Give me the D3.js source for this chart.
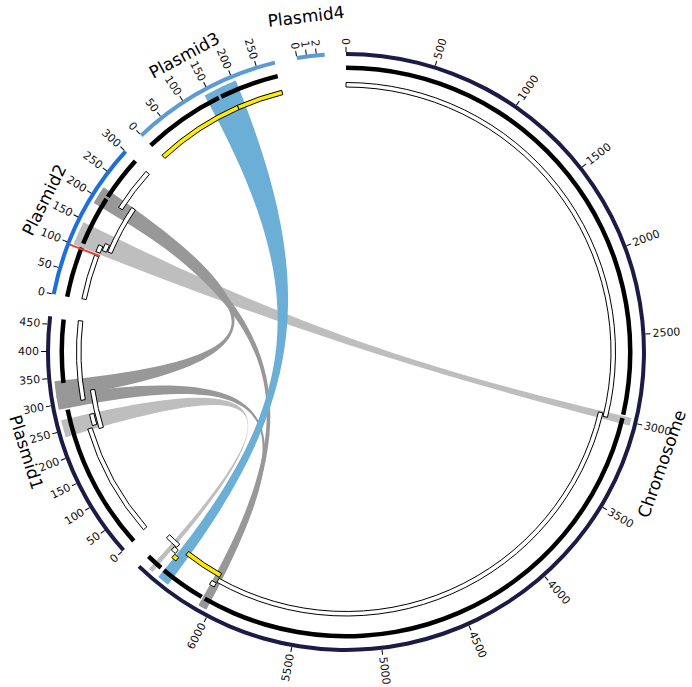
<!DOCTYPE html>
<html>
<head>
<meta charset="utf-8">
<script src="https://cdn.jsdelivr.net/npm/d3@7"></script>
<style>
  body { margin: 0; background: #fff; }
  svg { display: block; font-family: "DejaVu Sans", sans-serif; }
</style>
</head>
<body>
<svg width="692" height="687"></svg>
<script>
// replicons and their lengths (kb)
const sectorNames = ["Chromosome", "Plasmid1", "Plasmid2", "Plasmid3", "Plasmid4"];
const sectorLengths = [6470, 465, 300, 285, 2.85];
const tickSteps = [500, 50, 50, 50, 1];

// contig ring: [replicon, start, end]
const contigs = [
    ["Chromosome", 0, 2968], ["Chromosome", 2988, 6060], ["Chromosome", 6080, 6350], ["Chromosome", 6372, 6470],
    ["Plasmid1", 0, 287], ["Plasmid1", 339, 462],
    ["Plasmid2", 0, 100], ["Plasmid2", 108, 206], ["Plasmid2", 211, 299],
    ["Plasmid3", 0, 162], ["Plasmid3", 167, 284]
];

// annotated regions: [replicon, start, end, row, kind]
const regions = [
    ["Chromosome", 0, 3005, 0, "other"],
    ["Chromosome", 2985, 6045, 1, "other"],
    ["Chromosome", 6045, 6078, 0, "other"],
    ["Chromosome", 6046, 6305, 2, "island"],
    ["Chromosome", 6330, 6362, 0, "island"],
    ["Chromosome", 6362, 6395, 1, "other"],
    ["Chromosome", 6380, 6470, 2, "other"],
    ["Plasmid1", 4, 240, 0, "other"],
    ["Plasmid1", 244, 268, 1, "other"],
    ["Plasmid1", 234, 318, 2, "other"],
    ["Plasmid1", 300, 463, 0, "other"],
    ["Plasmid2", 2, 95, 0, "other"],
    ["Plasmid2", 103, 118, 0, "other"],
    ["Plasmid2", 110, 126, 1, "other"],
    ["Plasmid2", 112, 220, 2, "other"],
    ["Plasmid2", 205, 298, 0, "other"],
    ["Plasmid3", 3, 189, 0, "island"],
    ["Plasmid3", 189, 285, 0, "island"]
];

// single-position markers: [replicon, position]
const markers = [["Plasmid2", 97]];

// shared regions: [replicon, start, end, replicon, start, end, group]
const links = [
    ["Chromosome", 2975, 3020, "Plasmid2", 100, 146, "low"],
    ["Plasmid1", 237, 270, "Chromosome", 6392, 6420, "low"],
    ["Plasmid2", 187, 222, "Plasmid1", 312, 344, "mid"],
    ["Plasmid2", 190, 220, "Chromosome", 6022, 6072, "mid"],
    ["Plasmid1", 290, 318, "Chromosome", 6022, 6072, "mid"],
    ["Plasmid3", 140, 205, "Chromosome", 6280, 6350, "high"]
];

// ---- layout ----
var svg = d3.select("svg"),
    width = +svg.attr("width"),
    height = +svg.attr("height");

const cx = 346, cy = 352;
const gapDeg = 4.3;
const spanDeg = [224, 48.6, 31.1, 29.6, 5.4];
const nameShiftDeg = [-2.5, 0, 0, 0, 0];
const ideoColors = ["#1b1b45", "#1b1b45", "#1f6fdb", "#5b9bd5", "#5b9bd5"];
const linkColors = { low: "#bebebe", mid: "#989898", high: "#6baed6" };
const kindColors = { other: "#ffffff", island: "#ffeb00" };

const rIdeo = [296, 300], rRing = [282, 286.5], rLink = 293;
const rowBase = 265, rowStep = 5.5, rowHeight = 4.5;
const bend = 0.23;   // how far the link control points sit from the centre

// angle scale for each replicon
const rad = Math.PI / 180;
var scales = {};
var startDeg = 0;
sectorNames.forEach((name, i) => {
    scales[name] = d3.scaleLinear()
        .domain([0, sectorLengths[i]])
        .range([startDeg * rad, (startDeg + spanDeg[i]) * rad]);
    startDeg += spanDeg[i] + gapDeg;
});

var g = svg.append("g").attr("transform", "translate(" + cx + "," + cy + ")");

// ribbon with cubic curves through the middle
function linkPath(a0, a1, b0, b1) {
    const pt = (a, k) => [k * rLink * Math.sin(a), -k * rLink * Math.cos(a)];
    var p = d3.path();
    var s0 = pt(a0, 1), t0 = pt(b0, 1);
    p.moveTo(s0[0], s0[1]);
    p.arc(0, 0, rLink, a0 - Math.PI / 2, a1 - Math.PI / 2);
    var c1 = pt(a1, bend), c2 = pt(b0, bend);
    p.bezierCurveTo(c1[0], c1[1], c2[0], c2[1], t0[0], t0[1]);
    p.arc(0, 0, rLink, b0 - Math.PI / 2, b1 - Math.PI / 2);
    var c3 = pt(b1, bend), c4 = pt(a0, bend);
    p.bezierCurveTo(c3[0], c3[1], c4[0], c4[1], s0[0], s0[1]);
    p.closePath();
    return p.toString();
}

// links go underneath the tracks
g.append("g")
    .selectAll("path")
    .data(links)
    .enter().append("path")
    .attr("d", d => linkPath(scales[d[0]](d[1]), scales[d[0]](d[2]), scales[d[3]](d[4]), scales[d[3]](d[5])))
    .attr("fill", d => linkColors[d[6]]);

// outer ideogram arcs
var arc = d3.arc();
g.append("g")
    .selectAll("path")
    .data(sectorNames)
    .enter().append("path")
    .attr("d", (d, i) => arc({
        innerRadius: rIdeo[0], outerRadius: rIdeo[1],
        startAngle: scales[d](0), endAngle: scales[d](sectorLengths[i])
    }))
    .attr("fill", (d, i) => ideoColors[i]);

// contig ring
g.append("g")
    .selectAll("path")
    .data(contigs)
    .enter().append("path")
    .attr("d", d => arc({
        innerRadius: rRing[0], outerRadius: rRing[1],
        startAngle: scales[d[0]](d[1]), endAngle: scales[d[0]](d[2])
    }))
    .attr("fill", "#000");

// annotated regions
g.append("g")
    .selectAll("path")
    .data(regions)
    .enter().append("path")
    .attr("d", d => arc({
        innerRadius: rowBase - d[3] * rowStep,
        outerRadius: rowBase - d[3] * rowStep + rowHeight,
        startAngle: scales[d[0]](d[1]), endAngle: scales[d[0]](d[2])
    }))
    .attr("fill", d => kindColors[d[4]])
    .attr("stroke", "#000")
    .attr("stroke-width", 1);

// markers
g.append("g")
    .selectAll("line")
    .data(markers)
    .enter().append("line")
    .attr("x1", d => 264 * Math.sin(scales[d[0]](d[1])))
    .attr("y1", d => -264 * Math.cos(scales[d[0]](d[1])))
    .attr("x2", d => 297 * Math.sin(scales[d[0]](d[1])))
    .attr("y2", d => -297 * Math.cos(scales[d[0]](d[1])))
    .attr("stroke", "#e8402a")
    .attr("stroke-width", 2);

// ticks
var ticks = [];
sectorNames.forEach((name, i) => {
    d3.range(0, sectorLengths[i] + 1e-6, tickSteps[i]).forEach(v => {
        ticks.push({ name: name, value: v, angle: scales[name](v) / rad });
    });
});

var tick = g.append("g")
    .selectAll("g")
    .data(ticks)
    .enter().append("g")
    .attr("transform", d => "rotate(" + (d.angle - 90) + ")");

tick.append("line")
    .attr("x1", 300).attr("x2", 305)
    .attr("stroke", "#000").attr("stroke-width", 1);

tick.append("text")
    .attr("transform", d => d.angle > 180 ? "translate(307,0) rotate(180)" : "translate(307,0)")
    .attr("text-anchor", d => d.angle > 180 ? "end" : "start")
    .attr("dominant-baseline", "central")
    .attr("font-size", 11)
    .attr("fill", "#111")
    .text(d => d3.format("d")(d.value));

// replicon names
g.append("g")
    .selectAll("text")
    .data(sectorNames)
    .enter().append("text")
    .attr("transform", (d, i) => {
        var mid = (scales[d](0) + scales[d](sectorLengths[i])) / 2 / rad + nameShiftDeg[i];
        var r = (mid > 90 && mid < 270) ? 335 : 338;
        var x = r * Math.sin(mid * rad), y = -r * Math.cos(mid * rad);
        var rot = (mid > 90 && mid < 270) ? mid - 180 : mid;
        return "translate(" + x + "," + y + ") rotate(" + rot + ")";
    })
    .attr("text-anchor", "middle")
    .attr("dominant-baseline", "central")
    .attr("font-size", 17)
    .attr("fill", "#000")
    .text(d => d);
</script>
</body>
</html>
